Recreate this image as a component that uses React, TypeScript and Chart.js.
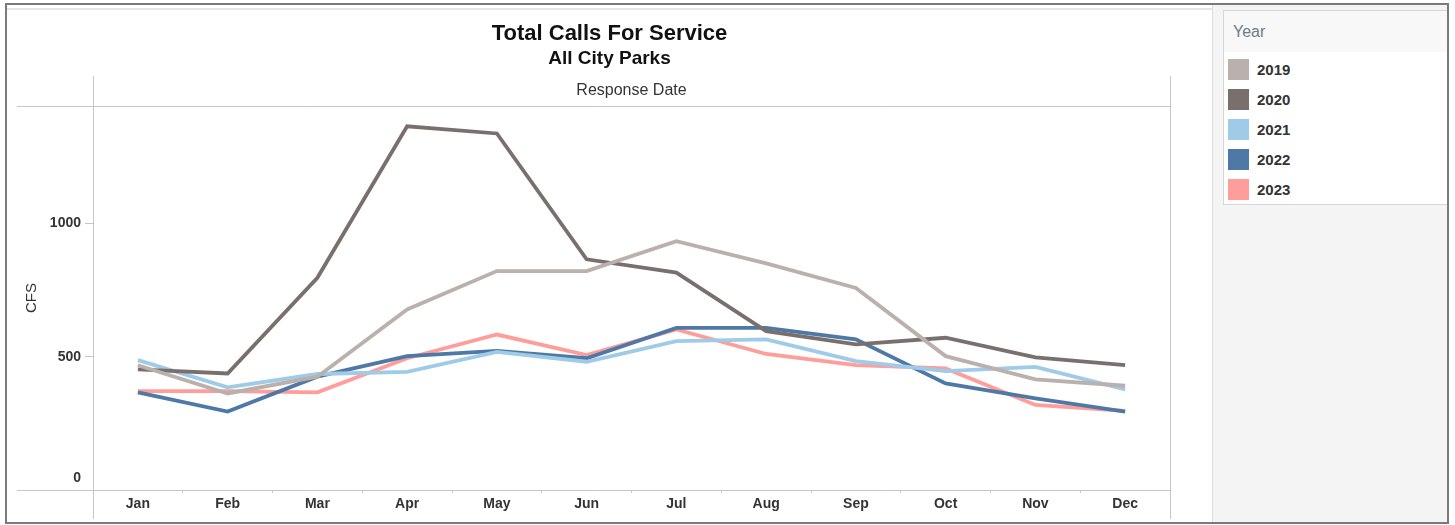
import React, { useEffect, useRef } from 'react';
import { Chart, registerables } from 'chart.js';

Chart.register(...registerables);

const months = ['Jan', 'Feb', 'Mar', 'Apr', 'May', 'Jun', 'Jul', 'Aug', 'Sep', 'Oct', 'Nov', 'Dec'];
const years = ['2019', '2020', '2021', '2022', '2023'];
const v2019 = [468, 362, 425, 677, 821, 821, 933, 850, 758, 502, 415, 391];
const v2020 = [452, 437, 796, 1364, 1337, 865, 815, 596, 546, 571, 497, 468];
const v2021 = [487, 385, 435, 443, 518, 481, 558, 565, 483, 446, 462, 377];
const v2022 = [366, 294, 425, 502, 522, 494, 608, 608, 565, 400, 344, 294];
const v2023 = [371, 371, 366, 494, 583, 506, 602, 510, 468, 456, 319, 297];
const seriesValues = [v2019, v2020, v2021, v2022, v2023];
const colors = ['#bab0ac', '#79706e', '#a0cbe8', '#4e79a7', '#ff9d9a'];
const yTicks = [0, 500, 1000];
const yMax = 1440;

const FONT = '"Liberation Sans", Arial, Helvetica, sans-serif';
const TEXT = '#333333';

const framePlugin = {
  id: 'tableauFrame',
  beforeDatasetsDraw(chart: any) {
    const { ctx, chartArea: a } = chart;
    ctx.save();
    ctx.strokeStyle = '#c6c6c6';
    ctx.lineWidth = 1;
    ctx.beginPath();
    const xl = a.left - 76;
    [a.top, a.bottom].forEach((y: number) => {
      const yy = Math.round(y) + 0.5;
      ctx.moveTo(xl, yy);
      ctx.lineTo(a.right, yy);
    });
    [a.left, a.right].forEach((x: number) => {
      const xx = Math.round(x) + 0.5;
      ctx.moveTo(xx, a.top - 30);
      ctx.lineTo(xx, chart.height - 3);
    });
    ctx.stroke();
    ctx.restore();
  },
};

function LineChart() {
  const ref = useRef<HTMLCanvasElement | null>(null);
  useEffect(() => {
    if (!ref.current) return;
    const chart = new Chart(ref.current, {
      type: 'line',
      data: {
        labels: months,
        datasets: years.map((y, i) => ({
          label: y,
          data: seriesValues[i],
          borderColor: colors[i],
          backgroundColor: colors[i],
          borderWidth: 3.8,
          pointRadius: 0,
          pointHoverRadius: 0,
          tension: 0,
          fill: false,
        })),
      },
      options: {
        responsive: false,
        animation: false,
        layout: { padding: { left: 42, right: 42, top: 0, bottom: 0 } },
        plugins: {
          legend: { display: false },
          tooltip: { enabled: false },
          title: {
            display: true,
            text: 'Total Calls For Service',
            color: '#111111',
            font: { family: FONT, size: 22, weight: 'bold', lineHeight: 1.2 },
            padding: { top: 16, bottom: 0 },
          },
          subtitle: {
            display: true,
            text: 'All City Parks',
            color: '#111111',
            font: { family: FONT, size: 19, weight: 'bold', lineHeight: 1.2 },
            padding: { top: 0, bottom: 0 },
          },
        },
        scales: {
          x: {
            type: 'category',
            position: 'bottom',
            offset: true,
            border: { display: false },
            grid: {
              display: true,
              drawOnChartArea: false,
              drawTicks: true,
              offset: true,
              tickLength: 3,
              color: '#c6c6c6',
            },
            ticks: {
              color: TEXT,
              padding: 4,
              maxRotation: 0,
              autoSkip: false,
              font: { family: FONT, size: 14, weight: 'bold', lineHeight: 1 },
            },
            afterFit: (s: any) => {
              s.height = 32;
            },
          },
          x2: {
            type: 'category',
            position: 'top',
            grid: { display: false },
            border: { display: false },
            ticks: { display: false },
            title: {
              display: true,
              text: 'Response Date',
              color: TEXT,
              font: { family: FONT, size: 16, lineHeight: 1.2 },
              padding: { top: 11, bottom: 0 },
            },
            afterFit: (s: any) => {
              s.height = 35.8;
            },
          },
          y: {
            type: 'linear',
            min: 0,
            max: yMax,
            border: { display: false },
            grid: {
              display: true,
              drawOnChartArea: false,
              drawTicks: true,
              tickLength: 8,
              color: '#c6c6c6',
            },
            afterBuildTicks: (s: any) => {
              s.ticks = yTicks.map((v) => ({ value: v }));
            },
            ticks: {
              color: TEXT,
              padding: 4,
              callback: (v: any) => (Number(v) === 0 ? ['0', ''] : String(v)),
              font: (c: any) => ({
                family: FONT,
                size: 14,
                weight: 'bold',
                lineHeight: c.tick && c.tick.value === 0 ? 1.7 : 1.2,
              }),
            },
            title: {
              display: true,
              text: 'CFS',
              color: TEXT,
              font: { family: FONT, size: 15, lineHeight: 1.2 },
              padding: { top: -26, bottom: 0 },
            },
            afterFit: (s: any) => {
              s.width = 44;
            },
          },
        },
      } as any,
      plugins: [framePlugin],
    });
    return () => chart.destroy();
  }, []);
  return <canvas ref={ref} width={1205} height={517} style={{ display: 'block' }} />;
}

function Legend() {
  return (
    <div
      style={{
        position: 'absolute',
        left: 1223,
        top: 10,
        width: 226,
        height: 195,
        boxSizing: 'border-box',
        border: '1px solid #d6d6d6',
        background: '#ffffff',
        fontFamily: FONT,
      }}
    >
      <div
        style={{
          height: 41,
          background: '#f8f8f8',
          color: '#6d7a8a',
          fontSize: 16,
          lineHeight: '41px',
          paddingLeft: 9,
        }}
      >
        Year
      </div>
      {years.map((y, i) => (
        <div
          key={y}
          style={{
            position: 'absolute',
            left: 4,
            top: 47 + i * 30,
            height: 22,
            display: 'flex',
            alignItems: 'center',
          }}
        >
          <div style={{ width: 21, height: 21, background: colors[i] }} />
          <span
            style={{
              marginLeft: 8,
              fontSize: 15,
              fontWeight: 'bold',
              color: TEXT,
            }}
          >
            {y}
          </span>
        </div>
      ))}
    </div>
  );
}

export default function App() {
  return (
    <div
      style={{
        position: 'fixed',
        left: 0,
        top: 0,
        width: 1455,
        height: 525,
        background: '#ffffff',
        overflow: 'hidden',
        fontFamily: FONT,
      }}
    >
      <div
        style={{
          position: 'absolute',
          left: 1212,
          top: 5,
          width: 236,
          height: 517,
          background: '#f4f4f4',
          borderLeft: '1px solid #dddddd',
          boxSizing: 'border-box',
        }}
      />
      <div
        style={{
          position: 'absolute',
          left: 7,
          top: 8,
          width: 1205,
          height: 2,
          background: '#e6e6e6',
        }}
      />
      <div style={{ position: 'absolute', left: 7, top: 5 }}>
        <LineChart />
      </div>
      <Legend />
      <div
        style={{
          position: 'absolute',
          left: 5,
          top: 3,
          width: 1444,
          height: 521,
          border: '2px solid #7a7a7a',
          boxSizing: 'border-box',
          pointerEvents: 'none',
        }}
      />
    </div>
  );
}
